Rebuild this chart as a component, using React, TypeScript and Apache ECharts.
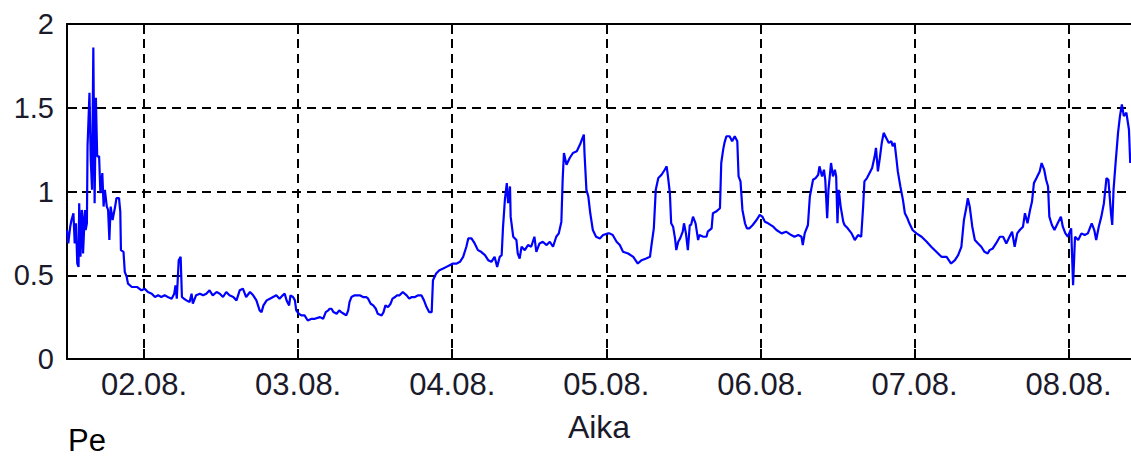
import { useEffect, useRef } from "react";
import * as echarts from "echarts";

// Readings per calendar day (August), each as [hour of day, value]
const aug01: [number, number][] = [
  [12.0, 0.77], [12.2, 0.69], [12.5, 0.79], [12.7, 0.83], [13.0, 0.87], [13.2, 0.69],
  [13.4, 0.81], [13.6, 0.57], [13.8, 0.55], [13.9, 0.93], [14.1, 0.61], [14.3, 0.89],
  [14.4, 0.85], [14.5, 0.63], [14.8, 0.89], [14.9, 0.77], [15.1, 0.81], [15.2, 1.27],
  [15.5, 1.59], [15.7, 1.19], [15.9, 1.01], [16.1, 1.86], [16.3, 0.93], [16.5, 1.56],
  [16.7, 1.21], [17.0, 1.21], [17.2, 0.99], [17.5, 1.11], [17.7, 0.91], [17.9, 1.01],
  [18.2, 0.91], [18.4, 0.89], [18.6, 0.71], [18.8, 0.91], [19.1, 0.83], [19.5, 0.91],
  [19.7, 0.96], [20.1, 0.96], [20.3, 0.88], [20.4, 0.65], [20.8, 0.64], [21.0, 0.52],
  [21.3, 0.49], [21.5, 0.45], [22.1, 0.43], [22.9, 0.43], [23.6, 0.41],
];

const aug02: [number, number][] = [
  [0.1, 0.42], [0.6, 0.40], [1.2, 0.39], [1.7, 0.37], [2.2, 0.38], [2.7, 0.37],
  [3.2, 0.38], [3.7, 0.37], [4.3, 0.36], [4.7, 0.39], [4.9, 0.44], [5.1, 0.36],
  [5.4, 0.59], [5.7, 0.61], [5.9, 0.37], [6.2, 0.36], [6.6, 0.35], [7.1, 0.34],
  [7.4, 0.39], [7.6, 0.33], [8.1, 0.38], [8.7, 0.39], [9.2, 0.38], [9.7, 0.39],
  [10.2, 0.41], [10.7, 0.38], [11.3, 0.40], [11.8, 0.39], [12.3, 0.37], [12.8, 0.40],
  [13.3, 0.38], [13.9, 0.37], [14.4, 0.35], [14.9, 0.41], [15.4, 0.42], [15.9, 0.37],
  [16.5, 0.40], [17.0, 0.38], [17.5, 0.35], [18.0, 0.29], [18.3, 0.28], [18.6, 0.32],
  [19.1, 0.35], [19.6, 0.36], [20.1, 0.37], [20.6, 0.38], [21.1, 0.36], [21.6, 0.38],
  [21.9, 0.39], [22.2, 0.35], [22.6, 0.32], [22.8, 0.38], [23.2, 0.37], [23.5, 0.35],
  [23.7, 0.29],
];

const aug03: [number, number][] = [
  [0.1, 0.27], [0.5, 0.26], [1.0, 0.26], [1.5, 0.23], [2.1, 0.24], [2.6, 0.24],
  [3.4, 0.25], [3.9, 0.24], [4.3, 0.28], [4.7, 0.29], [4.9, 0.30], [5.2, 0.30],
  [5.5, 0.28], [6.0, 0.27], [6.4, 0.29], [6.7, 0.28], [7.1, 0.27], [7.5, 0.26],
  [7.8, 0.29], [8.0, 0.34], [8.3, 0.37], [8.8, 0.38], [9.6, 0.38], [10.1, 0.37],
  [10.6, 0.37], [10.9, 0.36], [11.3, 0.33], [11.7, 0.32], [12.1, 0.30], [12.4, 0.27],
  [13.0, 0.26], [13.3, 0.28], [13.6, 0.32], [14.0, 0.31], [14.4, 0.33], [14.7, 0.36],
  [15.1, 0.37], [15.4, 0.38], [15.8, 0.38], [16.3, 0.40], [16.9, 0.38], [17.3, 0.36],
  [17.7, 0.37], [18.2, 0.37], [18.7, 0.38], [19.2, 0.38], [19.6, 0.35], [20.0, 0.31],
  [20.4, 0.28], [20.8, 0.28], [21.0, 0.47], [21.5, 0.51], [22.0, 0.53], [22.6, 0.54],
  [23.1, 0.55], [23.6, 0.56],
];

const aug04: [number, number][] = [
  [0.1, 0.57], [0.7, 0.57], [1.2, 0.58], [1.7, 0.61], [2.2, 0.67], [2.5, 0.72],
  [3.0, 0.72], [3.5, 0.69], [4.0, 0.65], [4.5, 0.64], [5.1, 0.62], [5.6, 0.59],
  [6.1, 0.58], [6.6, 0.61], [7.0, 0.55], [7.4, 0.61], [7.7, 0.62], [7.9, 0.78],
  [8.2, 0.95], [8.5, 1.05], [8.7, 0.93], [9.0, 1.03], [9.1, 0.85], [9.5, 0.73],
  [10.0, 0.71], [10.2, 0.63], [10.5, 0.60], [10.8, 0.67], [11.3, 0.65], [11.8, 0.68],
  [12.3, 0.67], [12.8, 0.73], [13.1, 0.64], [13.6, 0.69], [14.1, 0.70], [14.7, 0.68],
  [15.2, 0.70], [15.7, 0.67], [16.2, 0.73], [16.6, 0.75], [17.0, 0.82], [17.2, 1.07],
  [17.4, 1.23], [17.8, 1.16], [18.3, 1.20], [18.8, 1.23], [19.4, 1.24], [19.9, 1.28],
  [20.1, 1.30], [20.5, 1.34], [20.6, 1.23], [20.9, 1.01], [21.2, 0.97], [21.5, 0.87],
  [21.9, 0.77], [22.4, 0.73], [23.0, 0.72], [23.5, 0.74],
];

const aug05: [number, number][] = [
  [0.3, 0.75], [0.5, 0.75], [1.0, 0.74], [1.6, 0.70], [2.1, 0.68], [2.6, 0.64],
  [3.4, 0.63], [4.2, 0.61], [4.9, 0.57], [5.5, 0.59], [6.2, 0.60], [6.8, 0.61],
  [7.0, 0.67], [7.4, 0.78], [7.7, 1.01], [8.1, 1.08], [8.6, 1.10], [9.1, 1.13],
  [9.4, 1.15], [9.6, 1.09], [9.9, 0.99], [10.1, 0.81], [10.4, 0.79], [10.7, 0.72],
  [10.9, 0.65], [11.2, 0.70], [11.5, 0.72], [11.9, 0.76], [12.1, 0.81], [12.4, 0.75],
  [12.7, 0.65], [13.0, 0.80], [13.2, 0.80], [13.5, 0.85], [13.9, 0.81], [14.3, 0.71],
  [14.5, 0.74], [15.1, 0.73], [15.6, 0.73], [15.8, 0.76], [16.4, 0.78], [16.6, 0.87],
  [17.1, 0.88], [17.7, 0.90], [17.9, 1.17], [18.2, 1.25], [18.4, 1.29], [18.7, 1.33],
  [19.2, 1.33], [19.6, 1.30], [20.0, 1.33], [20.4, 1.30], [20.6, 1.09], [20.9, 1.06],
  [21.2, 0.89], [21.6, 0.81], [21.9, 0.78], [22.3, 0.78], [22.8, 0.80], [23.4, 0.83],
  [23.9, 0.86],
];

const aug06: [number, number][] = [
  [0.3, 0.85], [0.7, 0.82], [1.2, 0.81], [2.0, 0.79], [2.5, 0.77], [3.3, 0.75],
  [4.0, 0.76], [4.8, 0.74], [5.3, 0.73], [5.9, 0.74], [6.4, 0.73], [6.6, 0.68],
  [6.9, 0.75], [7.4, 0.80], [7.7, 0.97], [7.9, 1.01], [8.2, 1.07], [8.6, 1.08],
  [9.0, 1.10], [9.2, 1.15], [9.6, 1.09], [9.9, 1.13], [10.1, 1.07], [10.4, 0.84],
  [10.6, 1.01], [10.8, 1.09], [11.0, 1.17], [11.3, 1.09], [11.6, 1.13], [11.8, 1.09],
  [12.0, 0.81], [12.2, 1.01], [12.5, 0.91], [12.9, 0.82], [13.1, 0.80], [13.6, 0.78],
  [14.2, 0.75], [14.7, 0.71], [15.2, 0.74], [15.7, 0.73], [16.0, 0.91], [16.2, 1.06],
  [16.6, 1.08], [17.0, 1.11], [17.4, 1.14], [17.8, 1.21], [18.0, 1.26], [18.3, 1.12],
  [18.6, 1.20], [18.9, 1.29], [19.2, 1.35], [19.6, 1.32], [20.0, 1.29], [20.4, 1.30],
  [20.6, 1.27], [20.9, 1.29], [21.2, 1.19], [21.4, 1.12], [21.8, 1.03], [22.2, 0.95],
  [22.5, 0.87], [22.9, 0.84], [23.2, 0.81], [23.7, 0.77],
];

const aug07: [number, number][] = [
  [0.3, 0.75], [1.1, 0.73], [1.9, 0.70], [2.6, 0.67], [3.4, 0.64], [4.2, 0.61],
  [5.0, 0.61], [5.7, 0.57], [6.3, 0.59], [6.8, 0.62], [7.3, 0.67], [7.7, 0.83],
  [8.1, 0.91], [8.3, 0.96], [8.6, 0.91], [9.0, 0.79], [9.4, 0.71], [9.9, 0.69],
  [10.4, 0.67], [10.9, 0.64], [11.4, 0.63], [11.7, 0.65], [12.2, 0.66], [12.7, 0.69],
  [13.3, 0.73], [13.8, 0.73], [14.3, 0.69], [14.8, 0.73], [15.2, 0.76], [15.6, 0.67],
  [16.0, 0.75], [16.4, 0.77], [16.9, 0.79], [17.2, 0.87], [17.6, 0.81], [18.0, 0.89],
  [18.3, 0.94], [18.6, 1.05], [19.0, 1.08], [19.5, 1.12], [19.8, 1.17], [20.2, 1.13],
  [20.5, 1.07], [20.8, 1.03], [21.0, 0.85], [21.4, 0.80], [21.8, 0.77], [22.3, 0.81],
  [22.8, 0.85], [23.1, 0.79], [23.5, 0.75], [23.9, 0.73],
];

const aug08: [number, number][] = [
  [0.4, 0.78], [0.7, 0.44], [1.0, 0.73], [1.5, 0.71], [2.0, 0.75], [2.5, 0.74],
  [3.0, 0.75], [3.6, 0.81], [4.0, 0.77], [4.3, 0.71], [4.7, 0.79], [5.1, 0.85],
  [5.5, 0.93], [5.9, 1.08], [6.2, 1.07], [6.6, 0.87], [6.8, 0.80], [7.0, 1.01],
  [7.3, 1.16], [7.7, 1.35], [8.0, 1.45], [8.3, 1.52], [8.6, 1.45], [9.0, 1.47],
  [9.4, 1.37], [9.6, 1.17],
];

// Day of month for each block of readings
const dayBlocks: { day: number; samples: [number, number][] }[] = [
  { day: 1, samples: aug01 },
  { day: 2, samples: aug02 },
  { day: 3, samples: aug03 },
  { day: 4, samples: aug04 },
  { day: 5, samples: aug05 },
  { day: 6, samples: aug06 },
  { day: 7, samples: aug07 },
  { day: 8, samples: aug08 },
];

// Axis ticks: midnight of each day, and the value gridlines
const dayTicks = [2, 3, 4, 5, 6, 7, 8];
const dayLabels = ["02.08.", "03.08.", "04.08.", "05.08.", "06.08.", "07.08.", "08.08."];
const valueTicks = [0, 0.5, 1, 1.5, 2];

// Visible time window: from noon on 01.08. to the morning of 08.08.
const timeStart = 1.5;
const timeEnd = 8.405;

const axisName = "Aika";
const panelTag = "Pe";

const TEXT_FONT = "'Liberation Sans', Arial, sans-serif";
const TEXT_COLOR = "#1a1a2a";

export default function App() {
  const ref = useRef<HTMLDivElement | null>(null);

  useEffect(() => {
    if (!ref.current) return;
    const chart = echarts.init(ref.current, null, { renderer: "svg" });

    const points: [number, number][] = [];
    dayBlocks.forEach(({ day, samples }) => {
      samples.forEach(([h, v]) => points.push([day + h / 24, v]));
    });

    const labelFor = (v: number) => {
      const i = dayTicks.indexOf(Math.round(v));
      return i >= 0 ? dayLabels[i] : "";
    };

    const dashed = { color: "#000", width: 2, type: [9, 6] as number[] };
    const solid = { color: "#000", width: 2 };

    chart.setOption({
      animation: false,
      backgroundColor: "#fff",
      grid: { left: 67, right: 0, top: 24, bottom: 100, containLabel: false },
      xAxis: [
        {
          type: "value",
          min: timeStart,
          max: timeEnd,
          axisLine: { show: true, onZero: false, lineStyle: solid },
          axisTick: { show: true, inside: true, length: 10, customValues: dayTicks, lineStyle: solid },
          axisLabel: {
            show: true,
            customValues: dayTicks,
            formatter: labelFor,
            color: TEXT_COLOR,
            fontFamily: TEXT_FONT,
            fontSize: 31,
            margin: 10,
          },
          splitLine: { show: true, lineStyle: dashed },
          name: axisName,
          nameLocation: "middle",
          nameGap: 52,
          nameTextStyle: { color: TEXT_COLOR, fontFamily: TEXT_FONT, fontSize: 32 },
        },
        {
          type: "value",
          position: "top",
          min: timeStart,
          max: timeEnd,
          axisLine: { show: true, onZero: false, lineStyle: solid },
          axisTick: { show: true, inside: true, length: 10, customValues: dayTicks, lineStyle: solid },
          axisLabel: { show: false },
          splitLine: { show: false },
        },
      ],
      yAxis: {
        type: "value",
        min: 0,
        max: 2,
        interval: 0.5,
        axisLine: { show: true, onZero: false, lineStyle: solid },
        axisTick: { show: true, inside: true, length: 10, lineStyle: solid },
        axisLabel: {
          formatter: (v: number) => (valueTicks.includes(v) ? String(v) : ""),
          color: TEXT_COLOR,
          fontFamily: TEXT_FONT,
          fontSize: 29,
          margin: 13,
        },
        splitLine: { show: true, lineStyle: dashed },
      },
      graphic: [
        {
          type: "text",
          left: 68,
          top: 425,
          style: {
            text: panelTag,
            fill: "#000",
            font: `31px ${TEXT_FONT}`,
            lineHeight: 30,
          },
        },
      ],
      series: [
        {
          type: "line",
          data: points,
          showSymbol: false,
          clip: true,
          lineStyle: { color: "#0000ff", width: 2.2 },
        },
      ],
    });

    return () => chart.dispose();
  }, []);

  return (
    <div
      ref={ref}
      style={{ position: "fixed", left: 0, top: 0, width: 1131, height: 459 }}
    />
  );
}
